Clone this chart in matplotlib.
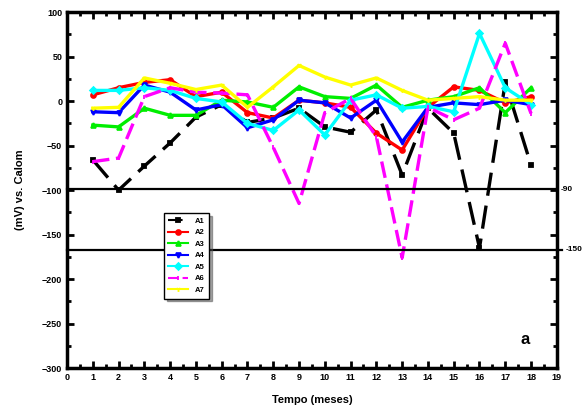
import matplotlib
matplotlib.use('Agg')
import matplotlib.pyplot as plt
from matplotlib.ticker import MultipleLocator

plt.rcParams['font.family'] = ['Liberation Sans', 'DejaVu Sans']
plt.rcParams['font.weight'] = 'bold'

months = list(range(1, 19))

# potentials (mV) per sample
a1 = [-66, -100, -73, -47, -18, -4, -24, -19, -8, -29, -35, -10, -83, -8, -36, -165, 21, -72]
a2 = [7, 15, 21, 24, 5, 10, -13, -19, 1, -2, -7, -36, -55, -7, 16, 12, -2, 5]
a3 = [-27, -29, -8, -16, -16, 1, -1, -7, 16, 5, 3, 18, -7, 1, 5, 15, -13, 15]
a4 = [-12, -13, 18, 10, -10, -4, -30, -21, 1, -2, -19, 1, -46, -7, -2, -4, 1, -4]
a5 = [12, 12, 15, 12, 3, -1, -25, -33, -10, -38, 1, 7, -8, -6, -12, 76, 15, -4]
a6 = [-68, -64, 5, 15, 10, 9, 7, -52, -115, -13, 3, -40, -176, -7, -21, -8, 65, -14]
a7 = [-8, -7, 26, 20, 13, 18, -7, 16, 40, 27, 18, 26, 12, 1, 3, 5, 1, 1]

series = [
    ('A1', a1, 'black', 's', (0, (7, 3))),
    ('A2', a2, 'red', 'o', '-'),
    ('A3', a3, '#00ee00', '^', '-'),
    ('A4', a4, 'blue', 'v', '-'),
    ('A5', a5, 'cyan', 'D', '-'),
    ('A6', a6, 'magenta', '|', (0, (5, 2))),
    ('A7', a7, 'yellow', '1', '-'),
]

ref_levels = [-99, -167]
ref_labels = ['-90', '-150']
ref_ends = [1.0, 1.01]

fig = plt.figure(figsize=(5.88, 4.16), dpi=100)
ax = fig.add_axes([0.114, 0.115, 0.833, 0.856])

for name, vals, color, marker, ls in series:
    ax.plot(months, vals, color=color, linestyle=ls, linewidth=2.4,
            marker=marker, markersize=3.5, markeredgewidth=1.3, label=name)

trans = ax.get_yaxis_transform()
for lvl, txt, end in zip(ref_levels, ref_labels, ref_ends):
    ax.plot([0, end], [lvl, lvl], color='black', linewidth=1.6,
            transform=trans, clip_on=False)
    ax.text(end + 0.008, lvl, txt, transform=trans,
            fontsize=6, fontweight='bold', va='center', ha='left')

ax.set_xlim(0, 19)
ax.set_ylim(-300, 100)
ax.set_xticks(range(0, 20))
ax.xaxis.set_minor_locator(MultipleLocator(0.5))
ax.yaxis.set_major_locator(MultipleLocator(50))
ax.yaxis.set_minor_locator(MultipleLocator(25))
ax.tick_params(which='both', direction='in', top=True, right=True,
               width=2, labelsize=6.5)
ax.tick_params(which='major', length=5)
ax.tick_params(which='minor', length=3)
for sp in ax.spines.values():
    sp.set_linewidth(2.5)
for lab in ax.get_xticklabels() + ax.get_yticklabels():
    lab.set_fontweight('bold')

ax.set_xlabel('Tempo (meses)', fontsize=8, fontweight='bold', labelpad=9)
ax.set_ylabel('(mV) vs. Calom', fontsize=8, fontweight='bold', labelpad=12)

ax.text(0.935, 0.08, 'a', transform=ax.transAxes, fontsize=12,
        fontweight='bold', ha='center', va='center')

leg = ax.legend(loc='upper left', bbox_to_anchor=(0.19, 0.447), fontsize=5.5,
                frameon=True, fancybox=False, shadow=True, handlelength=2.6,
                borderpad=0.6, labelspacing=0.55, edgecolor='black')
leg.get_frame().set_linewidth(1)
for h in leg.get_lines():
    h.set_linewidth(1.5)

fig.savefig('out.png', dpi=100)
